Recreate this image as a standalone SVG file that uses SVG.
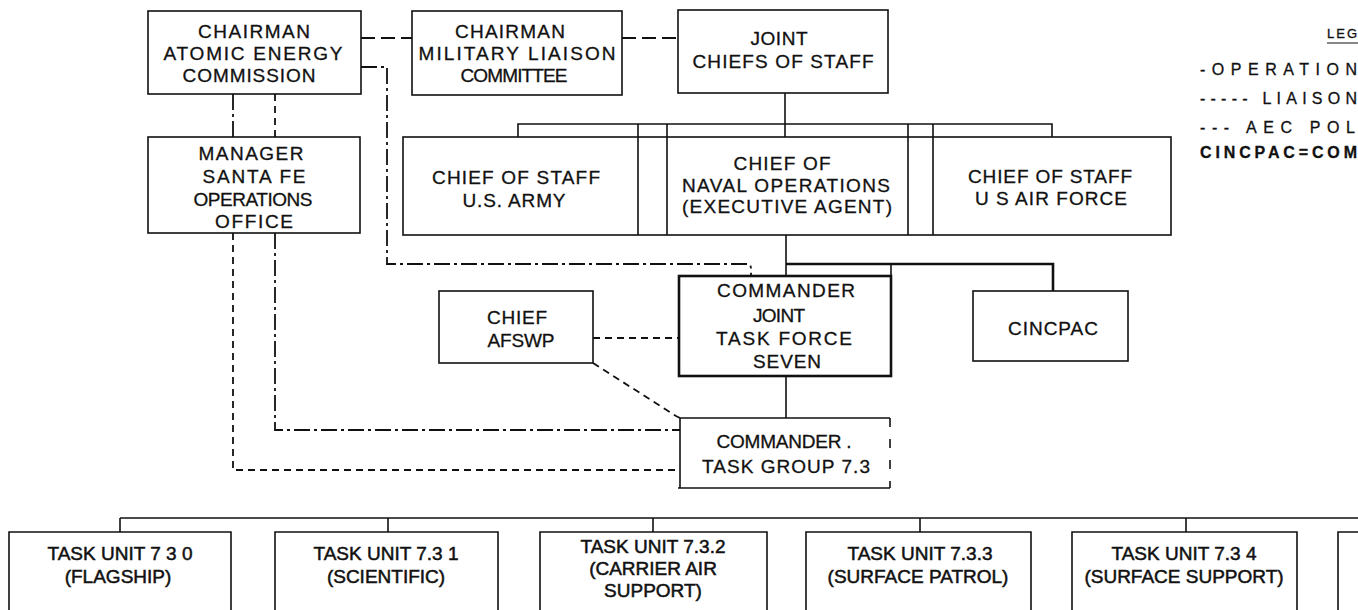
<svg xmlns="http://www.w3.org/2000/svg" width="1358" height="610" viewBox="0 0 1358 610">
<style>
  .bx{fill:#fff;stroke:#111;stroke-width:1.6}
  .bxo{fill:none;stroke:#111;stroke-width:1.6}
  .bold{fill:#fff;stroke:#111;stroke-width:2.6}
  text{font-family:"Liberation Sans",Arial,sans-serif;font-size:19px;fill:#111;stroke:#111;stroke-width:0.3;text-anchor:middle}
  .tu{font-size:19px;stroke-width:0.5}
  .lg{text-anchor:start;font-size:16px}
  .ln{fill:none;stroke:#111;stroke-width:1.6}
  .thk{fill:none;stroke:#111;stroke-width:2.6}
  .ld{fill:none;stroke:#111;stroke-width:1.8;stroke-dasharray:14 6}
  .dsh{fill:none;stroke:#111;stroke-width:1.8;stroke-dasharray:7 5}
  .dd{fill:none;stroke:#111;stroke-width:1.8;stroke-dasharray:16 4 3 4}
  .brk{fill:none;stroke:#111;stroke-width:1.6;stroke-dasharray:9 12}
</style>
<rect width="1358" height="610" fill="#fff"/>

<g id="connectors">
  <path class="ld" d="M361 38 H412"/>
  <path class="ld" d="M622 38 H678"/>
  <path class="dd" d="M233 94 V137"/>
  <path class="dsh" d="M275 94 V137"/>
  <path class="dd" d="M361 67 H387 V264 H748 Q751 264 751 270 V276"/>
  <path class="ln" d="M785 93 V137"/>
  <path class="ln" d="M518 137 V124 H1052 V137"/>
  <path class="ln" d="M638 124 V137 M667 124 V137 M908 124 V137 M933 124 V137"/>
  <path class="ln" d="M786 235 V276"/>
  <path class="thk" d="M786 264 H1053 V291"/>
  <path class="ln" d="M891 264 V276"/>
  <path class="ln" d="M786 376 V418"/>
  <path class="dsh" d="M593 338 H678"/>
  <path class="dsh" d="M593 363 L676 416 L680 418"/>
  <path class="dsh" d="M233 233 V470 H680"/>
  <path class="dd" d="M275 233 V430 H680"/>
  <path class="ln" d="M120 518 H1358"/>
  <path class="ln" d="M120 518 V532 M388 518 V532 M653 518 V532 M920 518 V532 M1186 518 V532"/>
</g>

<g id="aec">
  <rect class="bx" x="148" y="11" width="213" height="83"/>
  <text x="254" y="38" textLength="112" lengthAdjust="spacing">CHAIRMAN</text>
  <text x="253" y="60" textLength="179" lengthAdjust="spacing">ATOMIC ENERGY</text>
  <text x="249" y="82" textLength="133" lengthAdjust="spacing">COMMISSION</text>
</g>
<g id="mlc">
  <rect class="bx" x="412" y="11" width="210" height="84"/>
  <text x="510" y="38" textLength="110" lengthAdjust="spacing">CHAIRMAN</text>
  <text x="517" y="60" textLength="197" lengthAdjust="spacing">MILITARY LIAISON</text>
  <text x="514" y="82" textLength="107" lengthAdjust="spacing">COMMITTEE</text>
</g>
<g id="jcs">
  <rect class="bx" x="678" y="10" width="210" height="83"/>
  <text x="779" y="45" textLength="57" lengthAdjust="spacing">JOINT</text>
  <text x="783" y="68" textLength="181" lengthAdjust="spacing">CHIEFS OF STAFF</text>
</g>
<g id="manager">
  <rect class="bx" x="148" y="137" width="212" height="96"/>
  <text x="251" y="160" textLength="105" lengthAdjust="spacing">MANAGER</text>
  <text x="254" y="183" textLength="103" lengthAdjust="spacing">SANTA FE</text>
  <text x="253" y="206" textLength="119" lengthAdjust="spacing">OPERATIONS</text>
  <text x="254" y="228" textLength="78" lengthAdjust="spacing">OFFICE</text>
</g>
<g id="staff-row">
  <rect class="bx" x="403" y="137" width="768" height="98"/>
  <path class="ln" d="M638 137 V235 M667 137 V235 M908 137 V235 M933 137 V235"/>
</g>
<g id="army">
  <text x="516" y="184" textLength="168" lengthAdjust="spacing">CHIEF OF STAFF</text>
  <text x="514" y="207" textLength="103" lengthAdjust="spacing">U.S. ARMY</text>
</g>
<g id="cno">
  <text x="782" y="170" textLength="97" lengthAdjust="spacing">CHIEF OF</text>
  <text x="786" y="192" textLength="208" lengthAdjust="spacing">NAVAL OPERATIONS</text>
  <text x="787" y="213" textLength="210" lengthAdjust="spacing">(EXECUTIVE AGENT)</text>
</g>
<g id="airforce">
  <text x="1050" y="183" textLength="164" lengthAdjust="spacing">CHIEF OF STAFF</text>
  <text x="1051" y="205" textLength="152" lengthAdjust="spacing">U S AIR FORCE</text>
</g>
<g id="afswp">
  <rect class="bx" x="439" y="291" width="154" height="72"/>
  <text x="517" y="324" textLength="60" lengthAdjust="spacing">CHIEF</text>
  <text x="521" y="347" textLength="67" lengthAdjust="spacing">AFSWP</text>
</g>
<g id="cjtf7">
  <rect class="bold" x="679" y="276" width="212" height="100"/>
  <text x="786" y="297" textLength="138" lengthAdjust="spacing">COMMANDER</text>
  <text x="779" y="322" textLength="52" lengthAdjust="spacing">JOINT</text>
  <text x="784" y="345" textLength="136" lengthAdjust="spacing">TASK FORCE</text>
  <text x="787" y="368" textLength="68" lengthAdjust="spacing">SEVEN</text>
</g>
<g id="cincpac">
  <rect class="bx" x="973" y="291" width="155" height="70"/>
  <text x="1053" y="335" textLength="90" lengthAdjust="spacing">CINCPAC</text>
</g>
<g id="ctg73">
  <path class="ln" d="M680 488 V418 H890"/>
  <path class="brk" d="M890 418 V488"/>
  <path class="ln" d="M678 488 H890"/>
  <text x="784" y="448" textLength="135" lengthAdjust="spacing">COMMANDER .</text>
  <text x="786" y="473" textLength="168" lengthAdjust="spacing">TASK GROUP 7.3</text>
</g>

<g id="tu730">
  <path class="bxo" d="M9 610 V532 H231 V610"/>
  <text class="tu" x="120" y="560">TASK UNIT 7 3 0</text>
  <text class="tu" x="118" y="583">(FLAGSHIP)</text>
</g>
<g id="tu731">
  <path class="bxo" d="M275 610 V532 H498 V610"/>
  <text class="tu" x="386" y="560">TASK UNIT 7.3 1</text>
  <text class="tu" x="386" y="583">(SCIENTIFIC)</text>
</g>
<g id="tu732">
  <path class="bxo" d="M540 610 V532 H767 V610"/>
  <text class="tu" x="653" y="553">TASK UNIT 7.3.2</text>
  <text class="tu" x="653" y="575">(CARRIER AIR</text>
  <text class="tu" x="653" y="597">SUPPORT)</text>
</g>
<g id="tu733">
  <path class="bxo" d="M806 610 V532 H1031 V610"/>
  <text class="tu" x="920" y="560">TASK UNIT 7.3.3</text>
  <text class="tu" x="918" y="583">(SURFACE PATROL)</text>
</g>
<g id="tu734">
  <path class="bxo" d="M1072 610 V532 H1297 V610"/>
  <text class="tu" x="1184" y="560">TASK UNIT 7.3 4</text>
  <text class="tu" x="1184" y="583">(SURFACE SUPPORT)</text>
</g>
<g id="tu-next">
  <path class="bxo" d="M1338 610 V532 H1358"/>
</g>

<g id="legend">
  <text class="lg" x="1327" y="38" style="font-size:13px;letter-spacing:2px">LEG</text>
  <path class="ln" d="M1327 43 H1358" style="stroke-width:1"/>
  <text class="lg" x="1200" y="75" textLength="157" lengthAdjust="spacing">-OPERATION</text>
  <text class="lg" x="1200" y="104" textLength="157" lengthAdjust="spacing">----- LIAISON</text>
  <text class="lg" x="1200" y="133" textLength="155" lengthAdjust="spacing">--- AEC POL</text>
  <text class="lg" x="1200" y="158" textLength="157" lengthAdjust="spacing" style="font-weight:bold">CINCPAC=COM</text>
</g>
</svg>
